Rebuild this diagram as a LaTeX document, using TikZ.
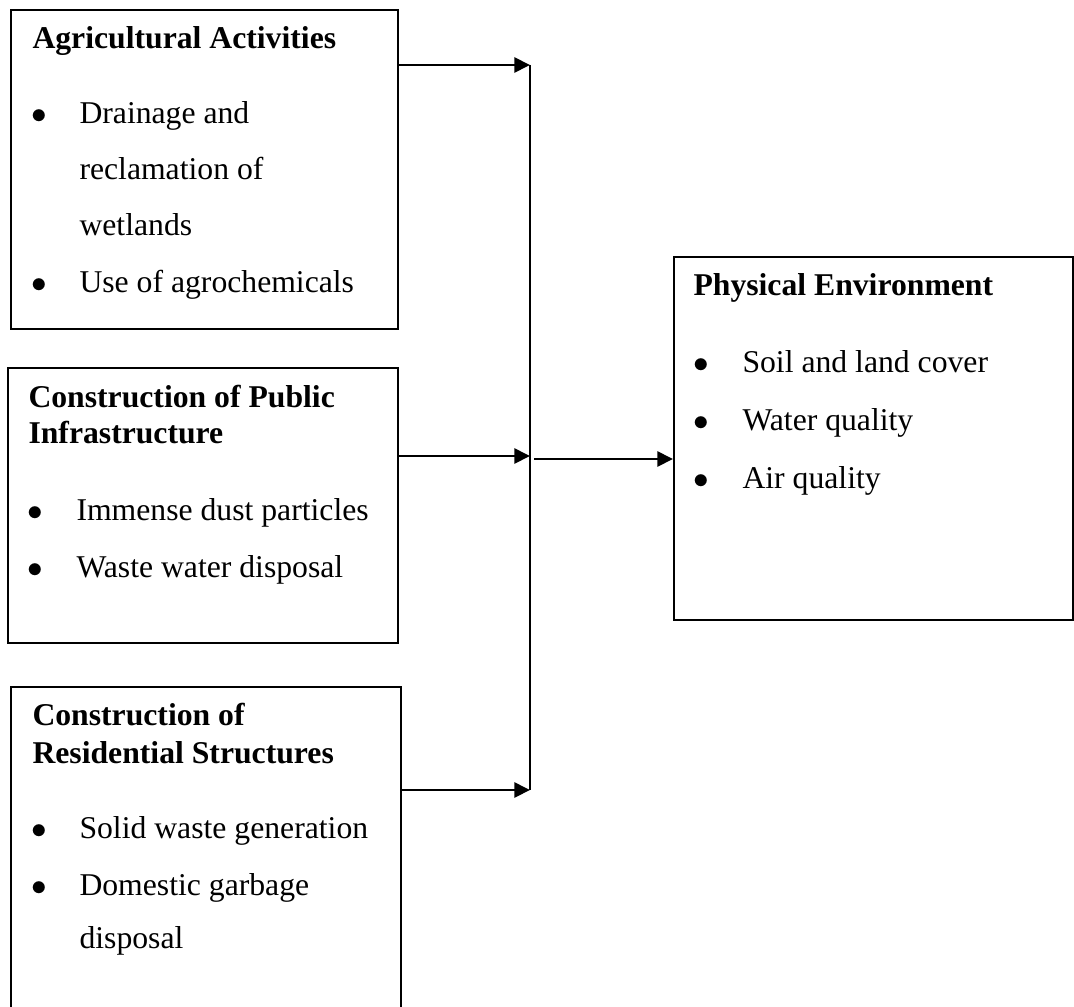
\documentclass[tikz,border=0pt]{standalone}
\usepackage{fontspec}
\setmainfont{Liberation Serif}
\usetikzlibrary{arrows.meta}

\begin{document}
\begin{tikzpicture}[x=0.385pt,y=-0.385pt,>={Triangle[length=6pt,width=5.8pt]},
  box/.style={draw,line width=0.8pt,anchor=north west,inner sep=0pt},
  head/.style={anchor=base west,inner sep=0pt,font=\fontsize{12.2}{14}\selectfont\bfseries},
  item/.style={anchor=base west,inner sep=0pt,font=\fontsize{12.2}{14}\selectfont},
  dot/.style={anchor=base,inner sep=0pt,font=\fontsize{11.5}{14}\selectfont},
  flow/.style={->,line width=0.8pt}]
\useasboundingbox (0,0) rectangle (1074,1007);
% boxes
\node[box,minimum width=149pt,minimum height=122.8pt] (agri) at (10,9) {};
\node[box,minimum width=150.15pt,minimum height=105.9pt] (publ) at (7,367) {};
\node[box,minimum width=150.15pt,minimum height=128.6pt] (resi) at (10,686) {};
\node[box,minimum width=153.6pt,minimum height=139.8pt] (phys) at (673,256) {};
% agricultural activities
\node[head] (agrih) at (32,49) {Agricultural Activities};
\node[dot] (agrid1) at (39,124) {$\bullet$}; \node[item] (agri1) at (79,124) {Drainage and};
\node[item] (agri2) at (79,180) {reclamation of}; \node[item] (agri3) at (79,236) {wetlands};
\node[dot] (agrid2) at (39,292) {$\bullet$}; \node[item] (agri4) at (79,292) {Use of agrochemicals};
% public infrastructure
\node[head] (publh1) at (28,407) {Construction of Public}; \node[head] (publh2) at (28,443) {Infrastructure};
\node[dot] (publd1) at (35,520) {$\bullet$}; \node[item] (publ1) at (76,520) {Immense dust particles};
\node[dot] (publd2) at (35,577) {$\bullet$}; \node[item] (publ2) at (76,577) {Waste water disposal};
% residential structures
\node[head] (resih1) at (32,725) {Construction of}; \node[head] (resih2) at (32,763) {Residential Structures};
\node[dot] (resid1) at (39,838) {$\bullet$}; \node[item] (resi1) at (79,838) {Solid waste generation};
\node[dot] (resid2) at (39,895) {$\bullet$}; \node[item] (resi2) at (79,895) {Domestic garbage};
\node[item] (resi3) at (79,948) {disposal};
% physical environment
\node[head] (physh) at (693,295) {Physical Environment};
\node[dot] (physd1) at (701,372) {$\bullet$}; \node[item] (phys1) at (742,372) {Soil and land cover};
\node[dot] (physd2) at (701,430) {$\bullet$}; \node[item] (phys2) at (742,430) {Water quality};
\node[dot] (physd3) at (701,488) {$\bullet$}; \node[item] (phys3) at (742,488) {Air quality};
% connectors
\coordinate (jt) at (530,65); \coordinate (jm) at (530,456); \coordinate (jb) at (530,790);
\coordinate (jo) at (534,459);
\draw[line width=0.8pt] (jt)--(jb);
\draw[flow] (agri.east |- jt)--(jt); \draw[flow] (publ.east |- jm)--(jm);
\draw[flow] (resi.east |- jb)--(jb); \draw[flow] (jo)--(phys.west |- jo);
\end{tikzpicture}
\end{document}
